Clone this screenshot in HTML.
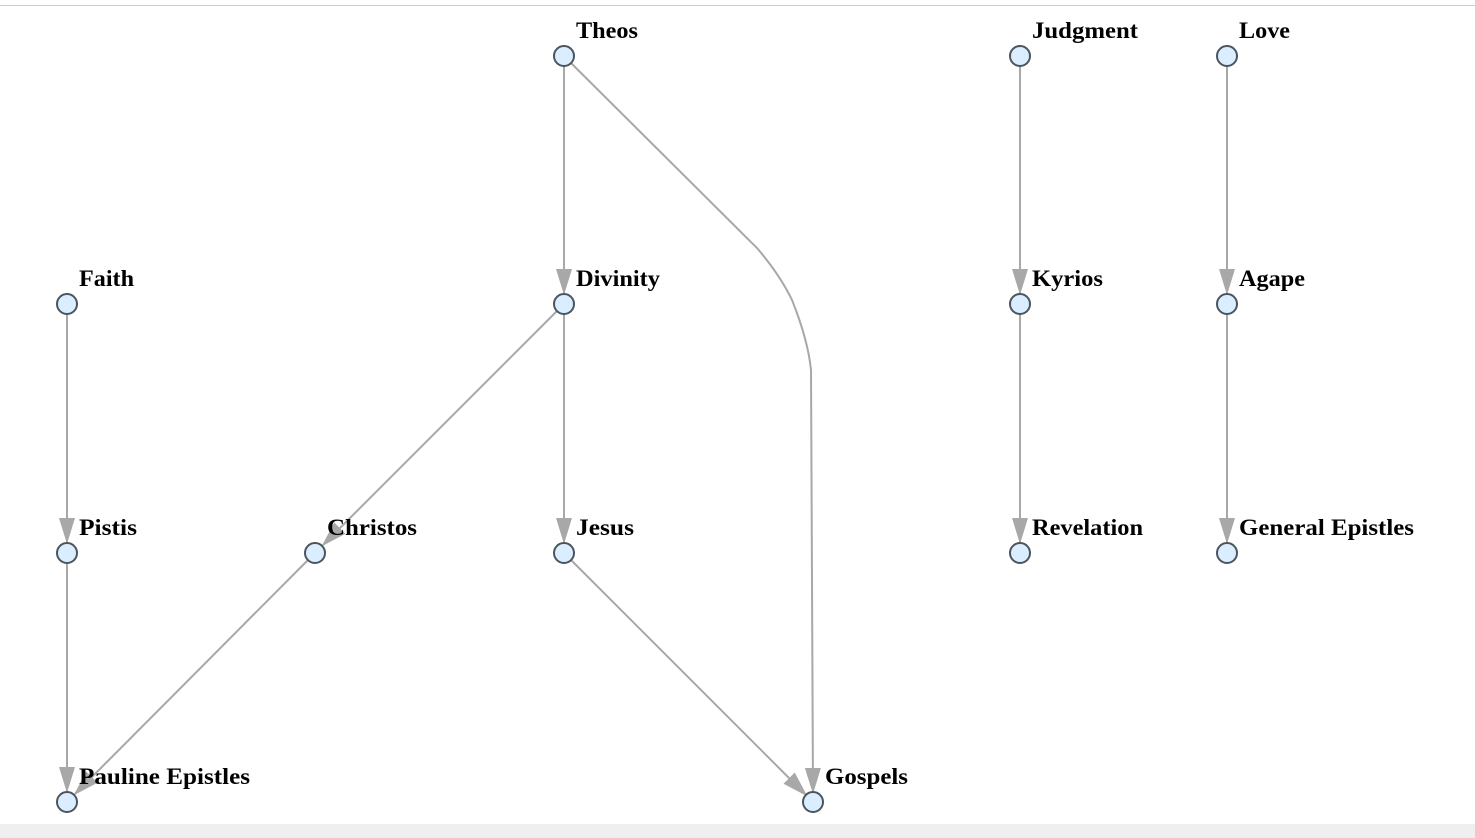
<!DOCTYPE html>
<html><head><meta charset="utf-8"><style>
html,body{margin:0;padding:0;background:#fff;}
body{width:1475px;height:838px;overflow:hidden;position:relative;}
.top{position:absolute;left:0;top:5px;width:1475px;height:1px;background:#cfcfcf;}
.bot{position:absolute;left:0;top:824px;width:1475px;height:14px;background:#efefef;}
svg{position:absolute;left:0;top:0;}
text{font-family:"Liberation Serif",serif;font-weight:bold;font-size:23px;fill:#000;}
</style></head><body>
<div class="top"></div>
<svg width="1475" height="824">
<defs>
<marker id="a" markerWidth="26" markerHeight="16" refX="24" refY="8" orient="auto" markerUnits="userSpaceOnUse">
<path d="M0,0 L26,8 L0,16 Z" fill="#a8a8a8"/>
</marker>
</defs>
<g stroke="#a8a8a8" stroke-width="2" fill="none" marker-end="url(#a)">
<path d="M564,66 V293"/>
<path d="M571,63 L757,248 Q780,275 792,300 Q808,340 811,370 L813,792"/>
<path d="M1020,66 V293"/>
<path d="M1227,66 V293"/>
<path d="M67,314 V542"/>
<path d="M557,311 L323,545"/>
<path d="M564,314 V542"/>
<path d="M1020,314 V542"/>
<path d="M1227,314 V542"/>
<path d="M67,563 V791"/>
<path d="M308,560 L75,794"/>
<path d="M571,560 L806,795"/>
</g>
<g fill="#dbeeff" stroke="#4a5560" stroke-width="2">
<circle cx="564" cy="56" r="10"/><circle cx="1020" cy="56" r="10"/><circle cx="1227" cy="56" r="10"/>
<circle cx="67" cy="304" r="10"/><circle cx="564" cy="304" r="10"/><circle cx="1020" cy="304" r="10"/><circle cx="1227" cy="304" r="10"/>
<circle cx="67" cy="553" r="10"/><circle cx="315" cy="553" r="10"/><circle cx="564" cy="553" r="10"/><circle cx="1020" cy="553" r="10"/><circle cx="1227" cy="553" r="10"/>
<circle cx="67" cy="802" r="10"/><circle cx="813" cy="802" r="10"/>
</g>
<g lengthAdjust="spacingAndGlyphs">
<text x="576" y="38" textLength="62" lengthAdjust="spacingAndGlyphs">Theos</text>
<text x="1032" y="38" textLength="106" lengthAdjust="spacingAndGlyphs">Judgment</text>
<text x="1239" y="38" textLength="51" lengthAdjust="spacingAndGlyphs">Love</text>
<text x="79" y="286" textLength="55" lengthAdjust="spacingAndGlyphs">Faith</text>
<text x="576" y="286" textLength="84" lengthAdjust="spacingAndGlyphs">Divinity</text>
<text x="1032" y="286" textLength="71" lengthAdjust="spacingAndGlyphs">Kyrios</text>
<text x="1239" y="286" textLength="66" lengthAdjust="spacingAndGlyphs">Agape</text>
<text x="79" y="535" textLength="58" lengthAdjust="spacingAndGlyphs">Pistis</text>
<text x="327" y="535" textLength="90" lengthAdjust="spacingAndGlyphs">Christos</text>
<text x="576" y="535" textLength="58" lengthAdjust="spacingAndGlyphs">Jesus</text>
<text x="1032" y="535" textLength="111" lengthAdjust="spacingAndGlyphs">Revelation</text>
<text x="1239" y="535" textLength="175" lengthAdjust="spacingAndGlyphs">General Epistles</text>
<text x="79" y="784" textLength="171" lengthAdjust="spacingAndGlyphs">Pauline Epistles</text>
<text x="825" y="784" textLength="83" lengthAdjust="spacingAndGlyphs">Gospels</text>
</g>
</svg>
<div class="bot"></div>
</body></html>
